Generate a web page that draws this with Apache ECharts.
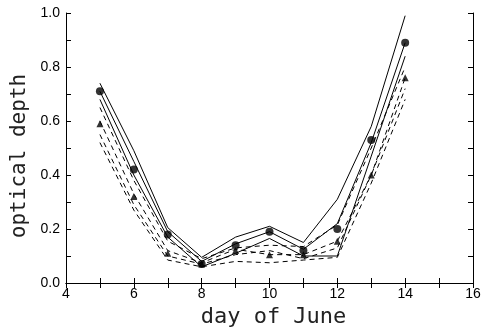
<!DOCTYPE html>
<html>
<head>
<meta charset="utf-8">
<script src="https://cdn.jsdelivr.net/npm/echarts@6/dist/echarts.min.js"></script>
<style>html,body{margin:0;padding:0;background:#fff}#c{width:482px;height:327px}</style>
</head>
<body>
<div id="c"></div>
<script>
var days = [5, 6, 7, 8, 9, 10, 11, 12, 13, 14];
var xTicks = ['4', '6', '8', '10', '12', '14', '16'];
var yTicks = ['0.0', '0.2', '0.4', '0.6', '0.8', '1.0'];
var circles   = [0.71, 0.42, 0.18, 0.07, 0.14, 0.19, 0.12, 0.20, 0.53, 0.89];
var triangles = [0.59, 0.32, 0.11, 0.07, 0.12, 0.105, 0.105, 0.155, 0.40, 0.76];
var solidTop  = [0.74, 0.49, 0.205, 0.095, 0.17, 0.21, 0.15, 0.31, 0.58, 0.99];
var solidMid  = [0.71, 0.45, 0.19, 0.08, 0.145, 0.19, 0.125, 0.22, 0.52, 0.89];
var solidLow  = [0.68, 0.40, 0.17, 0.06, 0.11, 0.165, 0.10, 0.10, 0.47, 0.84];
var dash1     = [0.65, 0.38, 0.155, 0.09, 0.13, 0.14, 0.135, 0.215, 0.50, 0.80];
var dash2     = [0.60, 0.33, 0.12, 0.075, 0.125, 0.105, 0.105, 0.155, 0.40, 0.76];
var dash3     = [0.55, 0.29, 0.10, 0.07, 0.105, 0.12, 0.09, 0.13, 0.40, 0.72];
var dash4     = [0.52, 0.27, 0.085, 0.06, 0.08, 0.075, 0.085, 0.095, 0.37, 0.68];

function pairs(v) { return days.map(function (d, i) { return [d, v[i]]; }); }
var chart = echarts.init(document.getElementById('c'));
var font = 'Liberation Sans, Arial, sans-serif';
var nameFont = 'DejaVu Sans Mono, Liberation Mono, monospace';
function lineSeries(v, dashed) {
  return { type: 'line', data: pairs(v), symbol: 'none', silent: true,
    lineStyle: { color: '#000', width: 1, type: dashed ? [5, 4] : 'solid' } };
}
var axisCommon = {
  axisLine: { lineStyle: { color: '#000', width: 1 } },
  axisTick: { inside: true, length: 5, lineStyle: { color: '#000' } },
  splitLine: { show: false }
};
chart.setOption({
  animation: false,
  backgroundColor: '#fff',
  grid: { left: 66, right: 9, top: 13, bottom: 44, containLabel: false, outerBoundsMode: 'none' },
  xAxis: [
    Object.assign({ type: 'value', min: 4, max: 16, interval: 1, position: 'bottom',
      name: 'day of June', nameLocation: 'middle', nameGap: 19,
      nameTextStyle: { fontFamily: nameFont, fontSize: 22, color: '#222', fontWeight: 'normal', padding: [0, 0, 0, 8] },
      axisLabel: { color: '#000', fontFamily: font, fontSize: 14, margin: 4,
        formatter: function (v) { return xTicks.indexOf(String(v)) >= 0 ? String(v) : ''; } } }, axisCommon),
    Object.assign({ type: 'value', min: 4, max: 16, interval: 1, position: 'top',
      axisLabel: { show: false } }, axisCommon)
  ],
  yAxis: [
    Object.assign({ type: 'value', min: 0, max: 1, interval: 0.1, position: 'left',
      name: 'optical depth', nameLocation: 'middle', nameGap: 31,
      nameTextStyle: { fontFamily: nameFont, fontSize: 21, color: '#222', fontWeight: 'normal', padding: [0, 16, 0, 0] },
      axisLabel: { color: '#000', fontFamily: font, fontSize: 14, margin: 6,
        formatter: function (v) { var s = v.toFixed(1); return yTicks.indexOf(s) >= 0 ? s : ''; } } }, axisCommon),
    Object.assign({ type: 'value', min: 0, max: 1, interval: 0.1, position: 'right',
      axisLabel: { show: false } }, axisCommon)
  ],
  series: [
    lineSeries(solidTop, false), lineSeries(solidMid, false), lineSeries(solidLow, false),
    lineSeries(dash1, true), lineSeries(dash2, true), lineSeries(dash3, true), lineSeries(dash4, true),
    { type: 'scatter', data: pairs(circles), symbol: 'circle', symbolSize: 8, itemStyle: { color: '#000' }, z: 5 },
    { type: 'scatter', data: pairs(triangles), symbol: 'triangle', symbolSize: 7, itemStyle: { color: '#000' }, z: 5 }
  ]
});
</script>
</body>
</html>
